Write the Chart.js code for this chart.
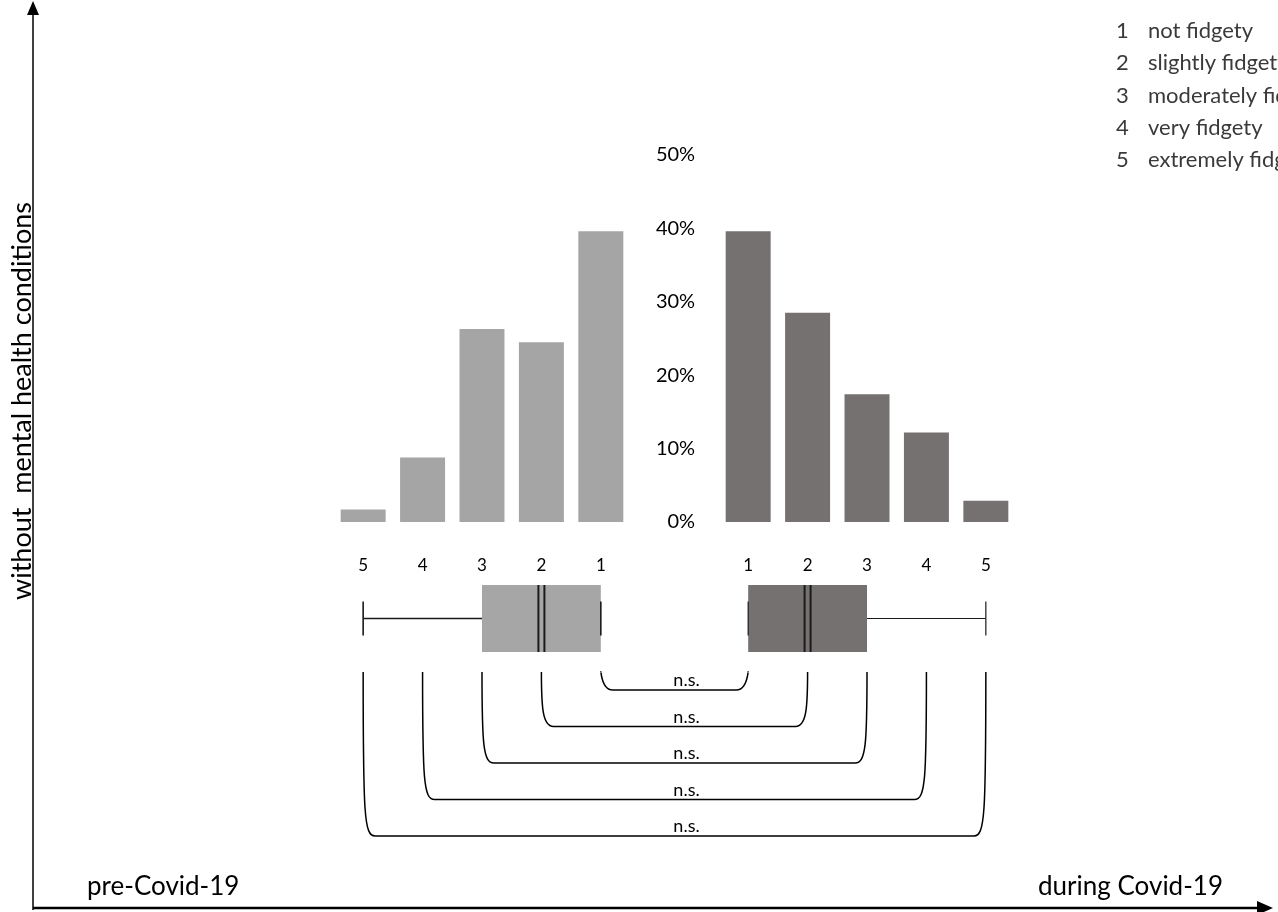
<!DOCTYPE html>
<html><head><meta charset="utf-8">
<script src="https://cdn.jsdelivr.net/npm/chart.js@4.4.1/dist/chart.umd.min.js"></script>
<style>html,body{margin:0;padding:0;background:#fff;overflow:hidden;} #wrap{width:1278px;height:912px;position:relative;}</style>
</head><body><div id="wrap"><canvas id="c" width="1278" height="912"></canvas></div>
<script>
// ---- data ----
const categories = ['1', '2', '3', '4', '5'];
const legendLabels = ['not fidgety', 'slightly fidgety', 'moderately fidgety', 'very fidgety', 'extremely fidgety'];
const preCovid = [39.6, 24.5, 26.3, 8.8, 1.7];
const duringCovid = [39.6, 28.5, 17.4, 12.2, 2.9];
const yTicks = [0, 10, 20, 30, 40, 50];
const preBox = [1, 1, 2, 3, 5];      // min, q1, median, q3, max
const duringBox = [1, 1, 2, 3, 5];   // min, q1, median, q3, max
const comparisons = ['n.s.', 'n.s.', 'n.s.', 'n.s.', 'n.s.']; // category k: pre vs during
const sideLabels = ['pre-Covid-19', 'during Covid-19'];
const groupLabel = 'without  mental health conditions';

// ---- layout helpers ----
const GAP = 1.24; // half of the central gap, in category units
const pos = (side, rank) => side * (rank - 1 + GAP);
const FONT = 'Lato, "Open Sans", sans-serif';

const tickPositions = categories.map((c, i) => pos(-1, i + 1))
  .concat(categories.map((c, i) => pos(1, i + 1)))
  .sort((a, b) => a - b);

function line(ctx, x1, y1, x2, y2) { ctx.beginPath(); ctx.moveTo(x1, y1); ctx.lineTo(x2, y2); ctx.stroke(); }

const decor = {
  id: 'decor',
  afterDraw(chart) {
    const ctx = chart.ctx, xs = chart.scales.x;
    ctx.save();
    // box plots
    const BOX_T = 585, BOX_B = 652, MID = 618.5, CAP = 17;
    function drawBox(stats, side, fill, lw) {
      const [mn, q1, med, q3, mx] = stats;
      const px = v => xs.getPixelForValue(pos(side, v));
      const a = px(q1), b = px(q3);
      ctx.fillStyle = fill;
      ctx.fillRect(Math.min(a, b), BOX_T, Math.abs(b - a), BOX_B - BOX_T);
      ctx.strokeStyle = '#1a1a1a';
      ctx.lineWidth = lw;
      line(ctx, px(q3), MID, px(mx), MID);
      line(ctx, px(q1), MID, px(mn), MID);
      line(ctx, px(mx), MID - CAP, px(mx), MID + CAP);
      line(ctx, px(mn), MID - CAP, px(mn), MID + CAP);
      ctx.lineWidth = 2;
      const m = px(med);
      line(ctx, m - 3, BOX_T, m - 3, BOX_B);
      line(ctx, m + 3, BOX_T, m + 3, BOX_B);
    }
    drawBox(preBox, -1, '#a6a6a6', 1.6);
    drawBox(duringBox, 1, '#757171', 1.2);

    // significance brackets
    ctx.strokeStyle = '#000';
    ctx.lineWidth = 1.5;
    ctx.fillStyle = '#000';
    ctx.font = '18px ' + FONT;
    ctx.textAlign = 'center';
    ctx.textBaseline = 'alphabetic';
    const TOP = 672, r = 12;
    comparisons.forEach((lab, i) => {
      const xl = xs.getPixelForValue(pos(-1, i + 1));
      const xr = xs.getPixelForValue(pos(1, i + 1));
      const yb = 690 + i * 36.5;
      ctx.beginPath();
      ctx.moveTo(xl, TOP);
      ctx.bezierCurveTo(xl, yb - 20, xl + 1, yb, xl + r, yb);
      ctx.lineTo(xr - r, yb);
      ctx.bezierCurveTo(xr - 1, yb, xr, yb - 20, xr, TOP);
      ctx.stroke();
      ctx.fillText(lab, (xl + xr) / 2 + 12, yb - 4);
    });

    // axes arrows
    ctx.strokeStyle = '#000';
    ctx.fillStyle = '#000';
    ctx.lineWidth = 1.5;
    line(ctx, 33, 910, 33, 12);
    ctx.beginPath(); ctx.moveTo(33, 1); ctx.lineTo(27, 15); ctx.lineTo(39, 15); ctx.closePath(); ctx.fill();
    ctx.lineWidth = 2.5;
    line(ctx, 33, 908, 1260, 908);
    ctx.beginPath(); ctx.moveTo(1273, 908); ctx.lineTo(1257, 901); ctx.lineTo(1257, 915); ctx.closePath(); ctx.fill();

    // side labels
    ctx.font = '26px ' + FONT;
    ctx.textBaseline = 'alphabetic';
    ctx.textAlign = 'left';
    ctx.fillText(sideLabels[0], 87, 895);
    ctx.textAlign = 'right';
    ctx.fillText(sideLabels[1], 1223, 895);

    // vertical group label
    ctx.save();
    ctx.translate(31, 401);
    ctx.rotate(-Math.PI / 2);
    ctx.textAlign = 'center';
    ctx.textBaseline = 'alphabetic';
    ctx.font = '27px ' + FONT;
    ctx.fillText(groupLabel, 0, 0);
    ctx.restore();

    // category legend (top right)
    ctx.font = '22px ' + FONT;
    ctx.fillStyle = '#3a3a3a';
    ctx.textBaseline = 'middle';
    ctx.textAlign = 'left';
    categories.forEach((c, i) => {
      const y = 31 + i * 32.3;
      ctx.fillText(c, 1116, y);
      ctx.fillText(legendLabels[i], 1148, y);
    });
    ctx.restore();
  }
};

new Chart(document.getElementById('c'), {
  type: 'bar',
  data: {
    datasets: [
      { label: sideLabels[0], data: preCovid.map((v, i) => ({ x: pos(-1, i + 1), y: v })), backgroundColor: '#a5a5a5' },
      { label: sideLabels[1], data: duringCovid.map((v, i) => ({ x: pos(1, i + 1), y: v })), backgroundColor: '#767171' }
    ]
  },
  options: {
    responsive: false,
    animation: false,
    devicePixelRatio: 1,
    layout: { padding: { left: 318, right: 247, top: 155, bottom: 338 } },
    plugins: { legend: { display: false }, tooltip: { enabled: false } },
    datasets: { bar: { grouped: false, barPercentage: 0.757, categoryPercentage: 1 } },
    scales: {
      x: {
        type: 'linear', min: -6, max: 6, offset: false,
        grid: { display: false, drawTicks: false, offset: false },
        border: { display: false },
        afterBuildTicks: s => { s.ticks = tickPositions.map(v => ({ value: v })); },
        afterFit: s => { s.height = 52; s.paddingLeft = 0; s.paddingRight = 0; },
        ticks: {
          autoSkip: false, maxRotation: 0, padding: 33, color: '#000',
          font: { family: FONT, size: 17 },
          callback: v => categories[Math.round(Math.abs(v) - GAP)]
        }
      },
      y: {
        min: 0, max: 50,
        position: { x: 0.347 },
        grid: { display: false, drawTicks: false },
        border: { display: false },
        afterBuildTicks: s => { s.ticks = yTicks.map(v => ({ value: v })); },
        afterFit: s => { s.width = 0; },
        ticks: { color: '#000', font: { family: FONT, size: 20 }, callback: v => v + '%' }
      }
    }
  },
  plugins: [decor]
});
</script>
</body></html>
